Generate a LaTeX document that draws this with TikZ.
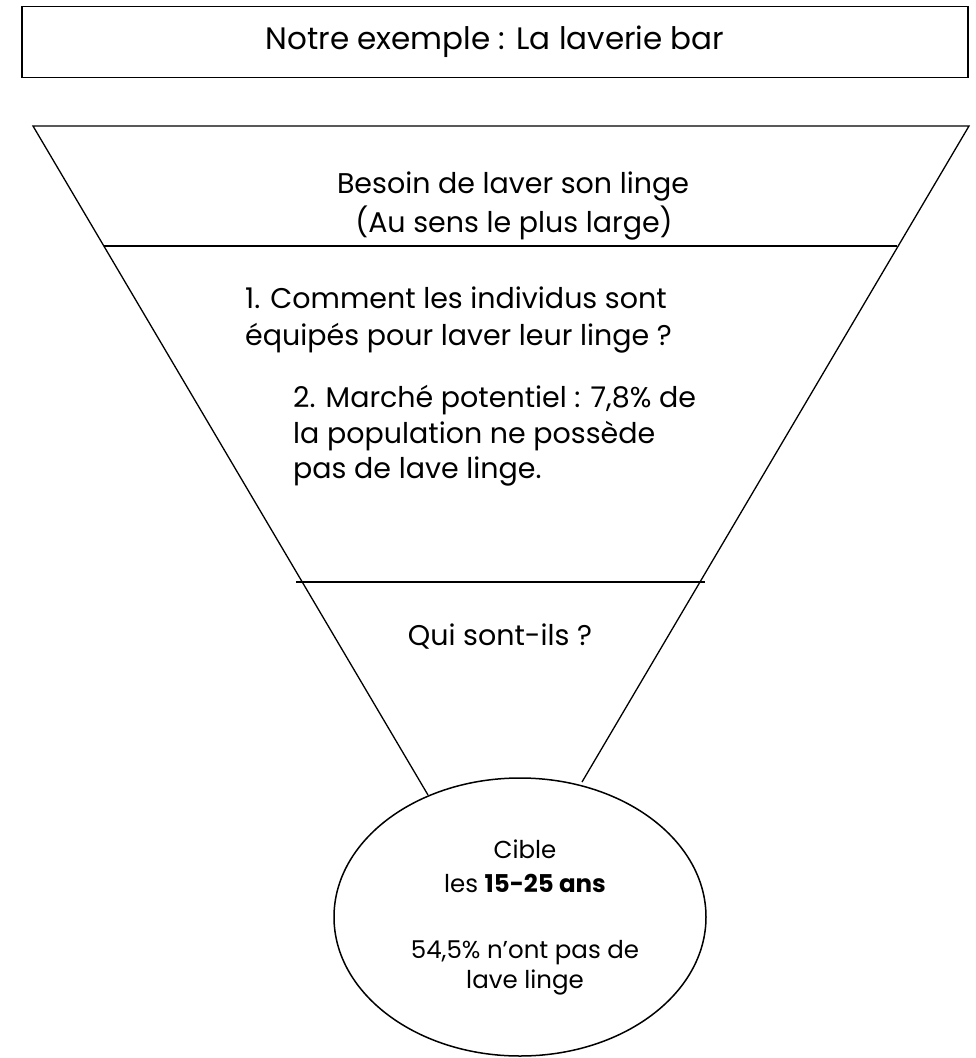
\documentclass[tikz,border=0pt]{standalone}
\usepackage{fontspec}
\setmainfont{Poppins}
\usetikzlibrary{shapes.geometric}
\begin{document}
\begin{tikzpicture}[x=1pt,y=-1pt,
  line/.style={line width=1.3pt, line join=miter},
  big/.style={font=\fontsize{28.5}{37}\selectfont, inner sep=0pt, anchor=base},
  small/.style={font=\fontsize{24.5}{30}\selectfont, inner sep=0pt, anchor=base}]
\useasboundingbox (0,0) rectangle (975,1058);
% title box
\node[draw, line width=1.8pt, minimum width=946pt, minimum height=71pt, inner sep=0pt,
      font=\fontsize{31}{37}\selectfont] (titre) at (495,42) {Notre exemple : La laverie bar};
% ellipse
\node[ellipse, draw, line width=1.5pt, minimum width=372pt, minimum height=278pt, inner sep=0pt] (cible) at (520,917) {};
% funnel
\coordinate (tl) at (33,126);
\coordinate (tr) at (969,126);
\coordinate (lb) at (428,795);
\coordinate (rb) at (582,782);
\coordinate (h1l) at (104,246);
\coordinate (h1r) at (897,246);
\coordinate (h2l) at (296,582);
\coordinate (h2r) at (705,582);
\draw[line] (lb) -- (tl) -- (tr) -- (rb);
\draw[line] (h1l) -- (h1r);
\draw[line] (h2l) -- (h2r);
% texts
\node[big] (b1) at (513,193) {Besoin de laver son linge};
\node[big] (b2) at (514,232) {(Au sens le plus large)};
\node[big, anchor=base west] (c1) at (245,308) {1. Comment les individus sont};
\node[big, anchor=base west] (c2) at (245,345) {équipés pour laver leur linge ?};
\node[big, anchor=base west] (m1) at (293,407) {2. Marché potentiel : 7,8\% de};
\node[big, anchor=base west] (m2) at (293,443) {la population ne possède};
\node[big, anchor=base west] (m3) at (293,478) {pas de lave linge.};
\node[big] (q) at (500,645) {Qui sont-ils ?};
\node[small] (e1) at (525,858) {Cible};
\node[small] (e2) at (525,892) {les \textbf{15-25 ans}};
\node[small] (e3) at (525,958) {54,5\% n’ont pas de};
\node[small] (e4) at (525,988) {lave linge};
\end{tikzpicture}
\end{document}
